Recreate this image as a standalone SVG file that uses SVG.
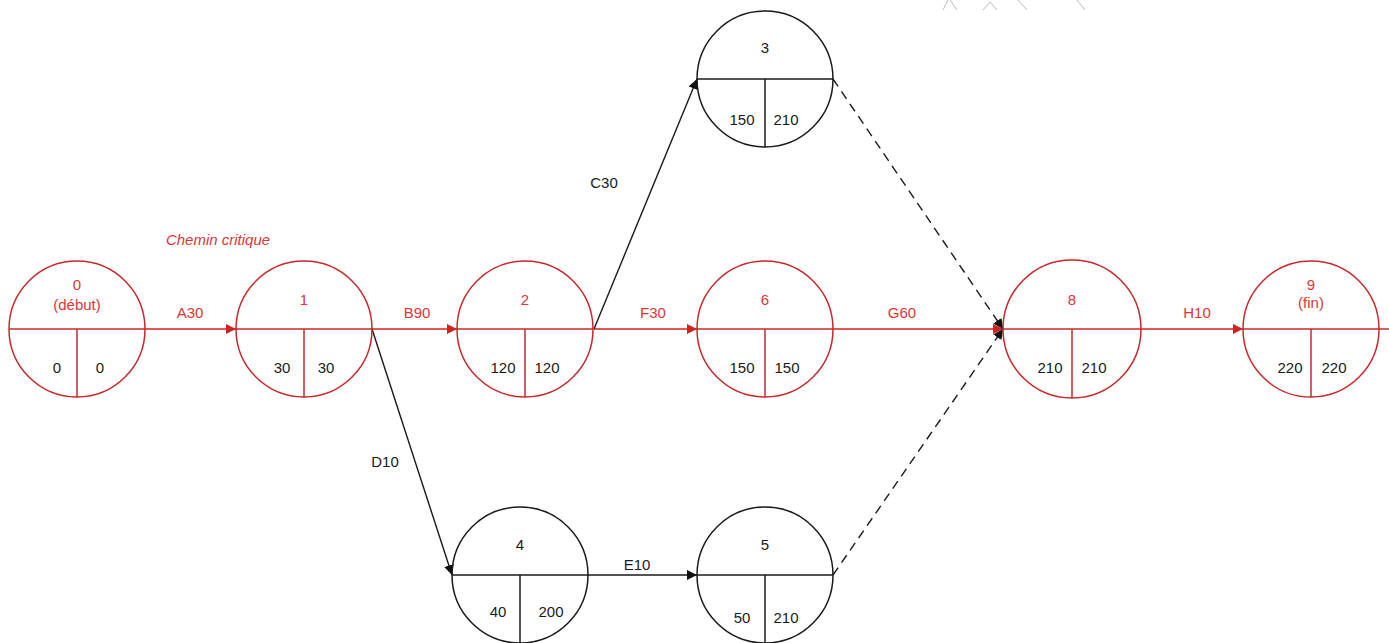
<svg xmlns="http://www.w3.org/2000/svg" width="1389" height="643" viewBox="0 0 1389 643">
<style>
.rc{fill:none;stroke:#c8282a;stroke-width:1.5}
.bc{fill:none;stroke:#1a1a1a;stroke-width:1.5}
.rl{stroke:#d42020;stroke-width:1.6;fill:none}
.bl{stroke:#1a1a1a;stroke-width:1.4;fill:none}
.dl{stroke:#1a1a1a;stroke-width:1.4;fill:none;stroke-dasharray:9 6}
text{font-family:"Liberation Sans",Arial,sans-serif;font-size:15px;text-anchor:middle}
.rt{fill:#e03535}
.bt{fill:#1a1a1a}
.it{font-style:italic}
.wm{stroke:#bbbbbb;stroke-width:1;fill:none}
</style>
<defs>
<marker id="ar" viewBox="0 0 10 10" refX="10" refY="5" markerWidth="10" markerHeight="10" markerUnits="userSpaceOnUse" orient="auto"><path d="M0,0 L10,5 L0,10 z" fill="#d42020"/></marker>
<marker id="ab" viewBox="0 0 10 10" refX="10" refY="5" markerWidth="10" markerHeight="10" markerUnits="userSpaceOnUse" orient="auto"><path d="M0,0 L10,5 L0,10 z" fill="#111"/></marker>
</defs>
<rect width="1389" height="643" fill="#fff"/>
<g id="watermark">
<path class="wm" d="M943,10 L948,0 M950,0 L957,10 M983,10 L990,2 L997,10 M1018,0 L1027,10 M1077,0 L1085,10"/>
</g>
<g id="connectors">
<line class="rl" x1="145" y1="329" x2="236" y2="329" marker-end="url(#ar)"/>
<line class="rl" x1="372" y1="329" x2="457" y2="329" marker-end="url(#ar)"/>
<line class="rl" x1="594" y1="329" x2="697" y2="329" marker-end="url(#ar)"/>
<line class="rl" x1="833" y1="329" x2="1003" y2="329" marker-end="url(#ar)"/>
<line class="rl" x1="1141" y1="329" x2="1243" y2="329" marker-end="url(#ar)"/>
<line class="bl" x1="594" y1="329" x2="697" y2="79" marker-end="url(#ab)"/>
<line class="bl" x1="372" y1="329" x2="452" y2="575" marker-end="url(#ab)"/>
<line class="bl" x1="588" y1="575" x2="697" y2="575" marker-end="url(#ab)"/>
<line class="dl" x1="833" y1="79" x2="1003" y2="329" marker-end="url(#ab)"/>
<line class="dl" x1="833" y1="575" x2="1003" y2="329" marker-end="url(#ab)"/>
<text class="rt" x="190" y="318">A30</text>
<text class="rt" x="417" y="318">B90</text>
<text class="rt" x="653" y="318">F30</text>
<text class="rt" x="902" y="318">G60</text>
<text class="rt" x="1197" y="318">H10</text>
<text class="bt" x="604" y="188">C30</text>
<text class="bt" x="385" y="467">D10</text>
<text class="bt" x="637" y="570">E10</text>
<text class="rt it" x="218" y="245">Chemin critique</text>
</g>
<g id="node0">
<circle class="rc" cx="77" cy="329" r="68"/>
<line class="rc" x1="9" y1="329" x2="145" y2="329"/>
<line class="rc" x1="77" y1="329" x2="77" y2="397"/>
<text class="rt" x="77" y="290">0</text>
<text class="rt" x="77" y="310">(début)</text>
<text class="bt" x="57" y="373">0</text>
<text class="bt" x="100" y="373">0</text>
</g>
<g id="node1">
<circle class="rc" cx="304" cy="329" r="68"/>
<line class="rc" x1="236" y1="329" x2="372" y2="329"/>
<line class="rc" x1="304" y1="329" x2="304" y2="397"/>
<text class="rt" x="304" y="305">1</text>
<text class="bt" x="282" y="373">30</text>
<text class="bt" x="326" y="373">30</text>
</g>
<g id="node2">
<circle class="rc" cx="525" cy="329" r="68"/>
<line class="rc" x1="457" y1="329" x2="593" y2="329"/>
<line class="rc" x1="525" y1="329" x2="525" y2="397"/>
<text class="rt" x="525" y="305">2</text>
<text class="bt" x="503" y="373">120</text>
<text class="bt" x="547" y="373">120</text>
</g>
<g id="node6">
<circle class="rc" cx="765" cy="329" r="68"/>
<line class="rc" x1="697" y1="329" x2="833" y2="329"/>
<line class="rc" x1="765" y1="329" x2="765" y2="397"/>
<text class="rt" x="765" y="305">6</text>
<text class="bt" x="742" y="373">150</text>
<text class="bt" x="787" y="373">150</text>
</g>
<g id="node8">
<circle class="rc" cx="1072" cy="329" r="69"/>
<line class="rc" x1="1003" y1="329" x2="1141" y2="329"/>
<line class="rc" x1="1072" y1="329" x2="1072" y2="398"/>
<text class="rt" x="1072" y="305">8</text>
<text class="bt" x="1050" y="373">210</text>
<text class="bt" x="1094" y="373">210</text>
</g>
<g id="node9">
<circle class="rc" cx="1311" cy="329" r="68"/>
<line class="rc" x1="1243" y1="329" x2="1389" y2="329"/>
<line class="rc" x1="1311" y1="329" x2="1311" y2="397"/>
<text class="rt" x="1311" y="290">9</text>
<text class="rt" x="1311" y="308">(fin)</text>
<text class="bt" x="1290" y="373">220</text>
<text class="bt" x="1334" y="373">220</text>
</g>
<g id="node3">
<circle class="bc" cx="765" cy="79" r="68"/>
<line class="bc" x1="697" y1="79" x2="833" y2="79"/>
<line class="bc" x1="765" y1="79" x2="765" y2="147"/>
<text class="bt" x="765" y="53">3</text>
<text class="bt" x="742" y="125">150</text>
<text class="bt" x="786" y="125">210</text>
</g>
<g id="node4">
<circle class="bc" cx="520" cy="575" r="68"/>
<line class="bc" x1="452" y1="575" x2="588" y2="575"/>
<line class="bc" x1="520" y1="575" x2="520" y2="643"/>
<text class="bt" x="520" y="550">4</text>
<text class="bt" x="498" y="617">40</text>
<text class="bt" x="551" y="617">200</text>
</g>
<g id="node5">
<circle class="bc" cx="765" cy="575" r="68"/>
<line class="bc" x1="697" y1="575" x2="833" y2="575"/>
<line class="bc" x1="765" y1="575" x2="765" y2="643"/>
<text class="bt" x="765" y="550">5</text>
<text class="bt" x="742" y="623">50</text>
<text class="bt" x="786" y="623">210</text>
</g>
</svg>
